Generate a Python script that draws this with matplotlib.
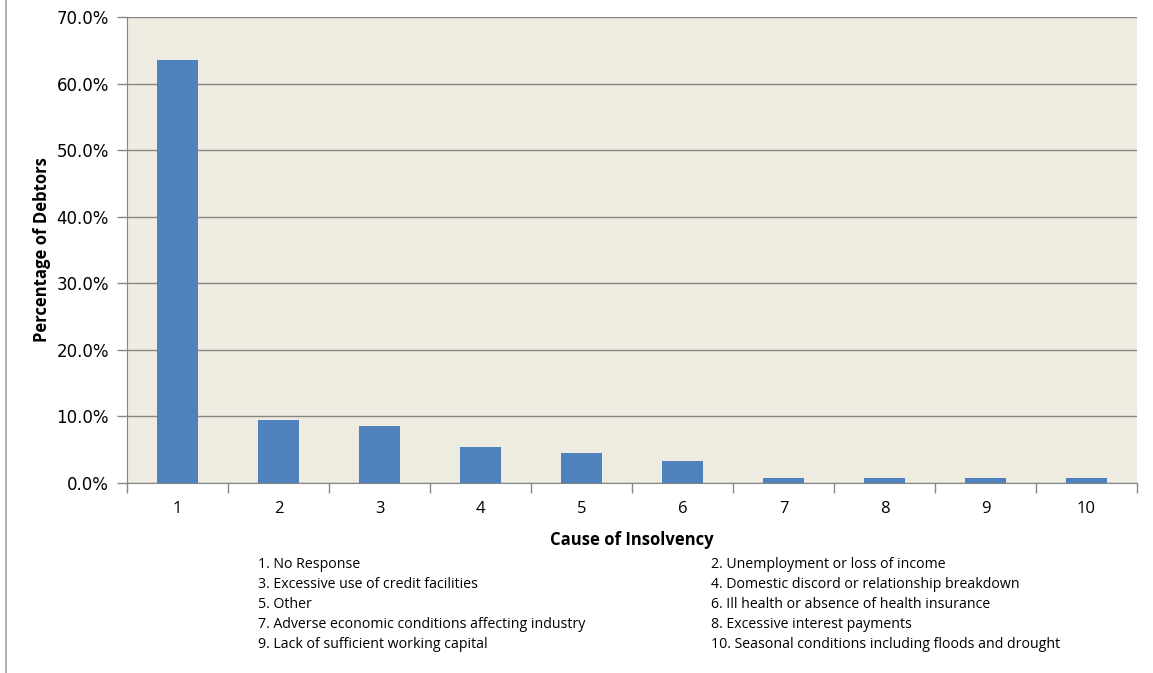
import matplotlib
matplotlib.use("Agg")
import matplotlib.pyplot as plt
from matplotlib.ticker import FuncFormatter, FixedLocator
from matplotlib.lines import Line2D

# Data
causes = [1, 2, 3, 4, 5, 6, 7, 8, 9, 10]
percent_debtors = [63.5, 9.4, 8.5, 5.4, 4.5, 3.3, 0.8, 0.8, 0.8, 0.8]
cause_names = [
    "1. No Response",
    "2. Unemployment or loss of income",
    "3. Excessive use of credit facilities",
    "4. Domestic discord or relationship breakdown",
    "5. Other",
    "6. Ill health or absence of health insurance",
    "7. Adverse economic conditions affecting industry",
    "8. Excessive interest payments",
    "9. Lack of sufficient working capital",
    "10. Seasonal conditions including floods and drought",
]
y_ticks = [0, 10, 20, 30, 40, 50, 60, 70]

plt.rcParams["font.family"] = ["Open Sans", "DejaVu Sans"]

fig = plt.figure(figsize=(11.53, 6.73), dpi=100)
ax = fig.add_axes([127 / 1153, 1 - 483 / 673, 1010 / 1153, 466 / 673])
ax.set_facecolor("#EEECE1")

grid_c = "#868686"
ax.bar(causes, percent_debtors, width=0.4, color="#4F81BD", zorder=3)

ax.set_xlim(0.5, 10.5)
ax.set_ylim(0, 70)
ax.set_yticks(y_ticks)
ax.yaxis.set_major_formatter(FuncFormatter(lambda v, p: f"{v:.1f}%"))
ax.grid(axis="y", color=grid_c, linewidth=1.0, zorder=1)
ax.set_axisbelow(True)

ax.set_xticks(causes)
ax.set_xticklabels([str(c) for c in causes], fontsize=12)
ax.tick_params(axis="x", length=0, pad=13)
# category boundary ticks
ax.xaxis.set_minor_locator(FixedLocator([c + 0.5 for c in range(0, 11)]))
ax.tick_params(axis="x", which="minor", length=7, color=grid_c, width=1)

ax.tick_params(axis="y", length=7, color=grid_c, width=1, pad=6,
               labelsize=12, labelfontfamily="DejaVu Sans")

for side in ["left", "bottom"]:
    ax.spines[side].set_color(grid_c)
ax.spines["right"].set_visible(False)
ax.spines["top"].set_visible(False)

ax.set_ylabel("Percentage of Debtors", fontsize=12, fontweight="bold")
ax.yaxis.set_label_coords(-76 / 1010, 0.5)
ax.set_xlabel("Cause of Insolvency", fontsize=12, fontweight="bold")
ax.xaxis.set_label_coords((632 - 127) / 1010, -(531 - 483) / 466)

# numbered legend of causes beneath the axis
for i, name in enumerate(cause_names):
    row = i // 2
    x = 258 if i % 2 == 0 else 711
    y = 564 + row * 20
    fig.text(x / 1153, 1 - y / 673, name, fontsize=10.2, va="center", ha="left")

# frame line along the left edge
fig.add_artist(Line2D([6 / 1153, 6 / 1153], [0, 1], color="#A0A0A0", linewidth=1.2,
                      transform=fig.transFigure))

fig.savefig("out.png", dpi=100)
